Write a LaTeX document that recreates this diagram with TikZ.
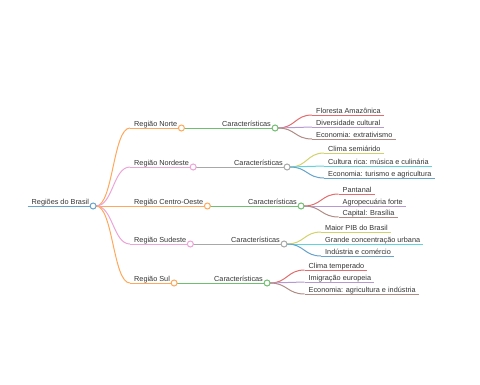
\documentclass[tikz,border=0pt]{standalone}
\usepackage{fontspec}
\setmainfont{Liberation Sans}
\usetikzlibrary{calc}
\definecolor{cBlue}{HTML}{1F77B4}
\definecolor{cOrange}{HTML}{FF7F0E}
\definecolor{cGreen}{HTML}{2CA02C}
\definecolor{cRed}{HTML}{D62728}
\definecolor{cPurple}{HTML}{9467BD}
\definecolor{cBrown}{HTML}{8C564B}
\definecolor{cPink}{HTML}{E377C2}
\definecolor{cGray}{HTML}{7F7F7F}
\definecolor{cOlive}{HTML}{BCBD22}
\definecolor{cCyan}{HTML}{17BECF}
\definecolor{txt}{HTML}{333333}
\tikzset{
  lbl/.style={anchor=base west,inner sep=0pt,font=\fontsize{7.3}{8}\selectfont,text=txt},
  br/.style={line width=1pt,draw=#1!68!white},
  dot/.style={circle,draw=#1!68!white,fill=white,line width=1pt,inner sep=0pt,minimum size=6pt},
}
\newcommand{\linkc}[3]{% color, from, to
  \draw[br=#1] (#2) .. controls ($(#2)!0.5!(#2 -| #3)$) and ($(#3)!0.5!(#3 -| #2)$) .. (#3);}
\begin{document}
\begin{tikzpicture}[x=1pt,y=-1pt]
\useasboundingbox (0,0) rectangle (480,384);
% root
\node[lbl] (tR) at (31.5,204) {Regiões do Brasil};
\coordinate (cR) at ($(tR.base east)+(4,2)$);
\coordinate (sR) at ($(tR.base west)+(-4,2)$);
\draw[br=cBlue] (sR) -- (cR);
\coordinate (oR) at ($(cR)+(3,0)$);
% regions
\foreach \id/\name/\y/\col/\ccol/\ctx in {
  N/Região Norte/128/cOrange/cGreen/222,
  NE/Região Nordeste/167/cPink/cGray/234,
  CO/Região Centro-Oeste/206/cOrange/cGreen/248,
  SE/Região Sudeste/244/cPink/cGray/231,
  S/Região Sul/283/cOrange/cGreen/214}{
  \node[lbl] (t\id) at (134,\y-2) {\name};
  \coordinate (s\id) at ($(t\id.base west)+(-4,2)$);
  \coordinate (c\id) at ($(t\id.base east)+(4,2)$);
  \linkc{\col}{oR}{s\id}
  \draw[br=\col] (s\id) -- (c\id);
  \node[lbl] (k\id) at (\ctx,\y-2) {Características};
  \coordinate (d\id) at ($(k\id.base east)+(4,2)$);
  \draw[br=\ccol] ($(c\id)+(3,0)$) -- (d\id);
  \coordinate (o\id) at ($(d\id)+(3,0)$);
}
\node[dot=cBlue] (nR) at (cR) {};
% leaves
\foreach \pp/\lid/\ltxt/\x/\y/\col in {
  N/a/Floresta Amazônica/316/115/cRed,
  N/b/Diversidade cultural/316/127/cPurple,
  N/c/Economia: extrativismo/316/139/cBrown,
  NE/a/Clima semiárido/328/153/cOlive,
  NE/b/Cultura rica: música e culinária/328/166/cCyan,
  NE/c/Economia: turismo e agricultura/328/178/cBlue,
  CO/a/Pantanal/342.5/194/cRed,
  CO/b/Agropecuária forte/342.5/206/cPurple,
  CO/c/Capital: Brasília/342.5/217/cBrown,
  SE/a/Maior PIB do Brasil/325/232/cOlive,
  SE/b/Grande concentração urbana/325/244/cCyan,
  SE/c/Indústria e comércio/325/256/cBlue,
  S/a/Clima temperado/308.5/270/cRed,
  S/b/Imigração europeia/308.5/282/cPurple,
  S/c/Economia: agricultura e indústria/308.5/294/cBrown}{
  \node[lbl] (l\pp\lid) at (\x,\y-2) {\ltxt};
  \coordinate (ls\pp\lid) at ($(l\pp\lid.base west)+(-4,2)$);
  \coordinate (le\pp\lid) at ($(l\pp\lid.base east)+(3,2)$);
  \linkc{\col}{o\pp}{ls\pp\lid}
  \draw[br=\col] (ls\pp\lid) -- (le\pp\lid);
}
\foreach \id/\col/\ccol in {N/cOrange/cGreen,NE/cPink/cGray,CO/cOrange/cGreen,SE/cPink/cGray,S/cOrange/cGreen}{
  \node[dot=\col] (n\id) at (c\id) {};
  \node[dot=\ccol] (m\id) at (d\id) {};
}
\end{tikzpicture}
\end{document}
